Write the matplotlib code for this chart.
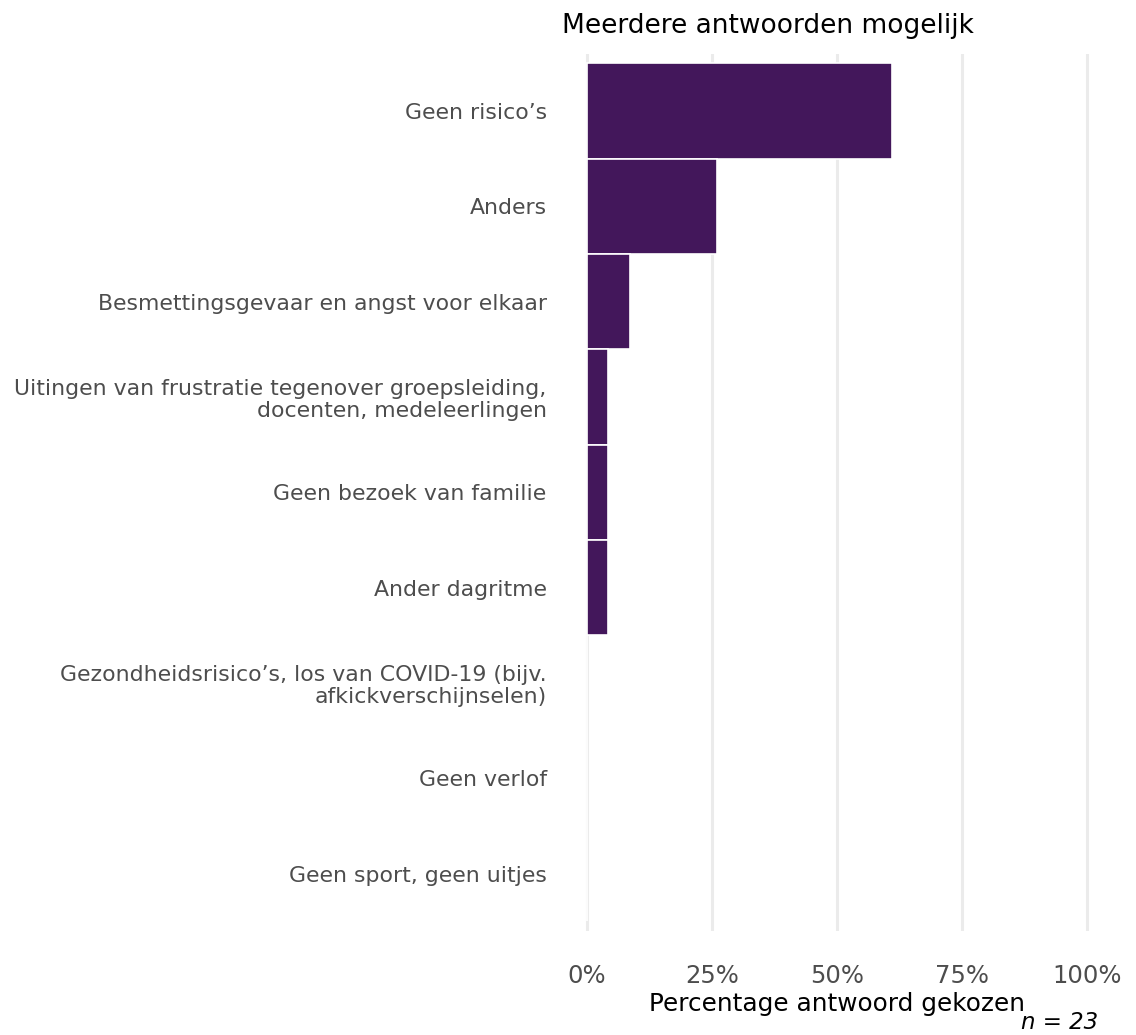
import matplotlib
matplotlib.use('Agg')
from matplotlib import pyplot as plt

# antwoorden, van boven naar beneden
categories = [
    'Geen risico’s',
    'Anders',
    'Besmettingsgevaar en angst voor elkaar',
    'Uitingen van frustratie tegenover groepsleiding,\ndocenten, medeleerlingen',
    'Geen bezoek van familie',
    'Ander dagritme',
    'Gezondheidsrisico’s, los van COVID-19 (bijv.\nafkickverschijnselen)',
    'Geen verlof',
    'Geen sport, geen uitjes',
]
# percentage gekozen (n = 23)
percentages = [60.9, 26.1, 8.7, 4.3, 4.3, 4.3, 0.0, 0.0, 0.0]
xticks = [0, 25, 50, 75, 100]
xtick_labels = ['0%', '25%', '50%', '75%', '100%']

plt.rcParams['font.family'] = ['DejaVu Sans']

fig = plt.figure(figsize=(11.36, 10.35), dpi=100)
ax = fig.add_axes([0.4947, 0.1005, 0.4842, 0.8475])

pos = list(range(len(categories)))
ax.barh(pos, percentages, height=1.0, color='#43175B',
        edgecolor='white', linewidth=1.2, zorder=3)

ax.set_xlim(-5, 105)
ax.set_ylim(len(categories) - 0.4, -0.6)
ax.set_xticks(xticks)
ax.set_xticklabels(xtick_labels, fontsize=17.5, color='#4D4D4D')
ax.set_yticks(pos)
ax.set_yticklabels(categories, fontsize=15.8, color='#4D4D4D', linespacing=1.1)
ax.tick_params(axis='y', length=0, pad=11)
ax.tick_params(axis='x', length=0, pad=24)

ax.grid(axis='x', color='#EBEBEB', linewidth=2.2, zorder=0)
ax.grid(axis='y', visible=False)
for s in ax.spines.values():
    s.set_visible(False)

ax.set_xlabel('Percentage antwoord gekozen', fontsize=17.8, color='black', labelpad=3)
ax.set_title('Meerdere antwoorden mogelijk', fontsize=19, loc='left', pad=15)
fig.text(0.967, 0.001, 'n = 23', fontsize=16.5, style='italic', ha='right', va='bottom')

fig.savefig('out.png', dpi=100, facecolor='white')
